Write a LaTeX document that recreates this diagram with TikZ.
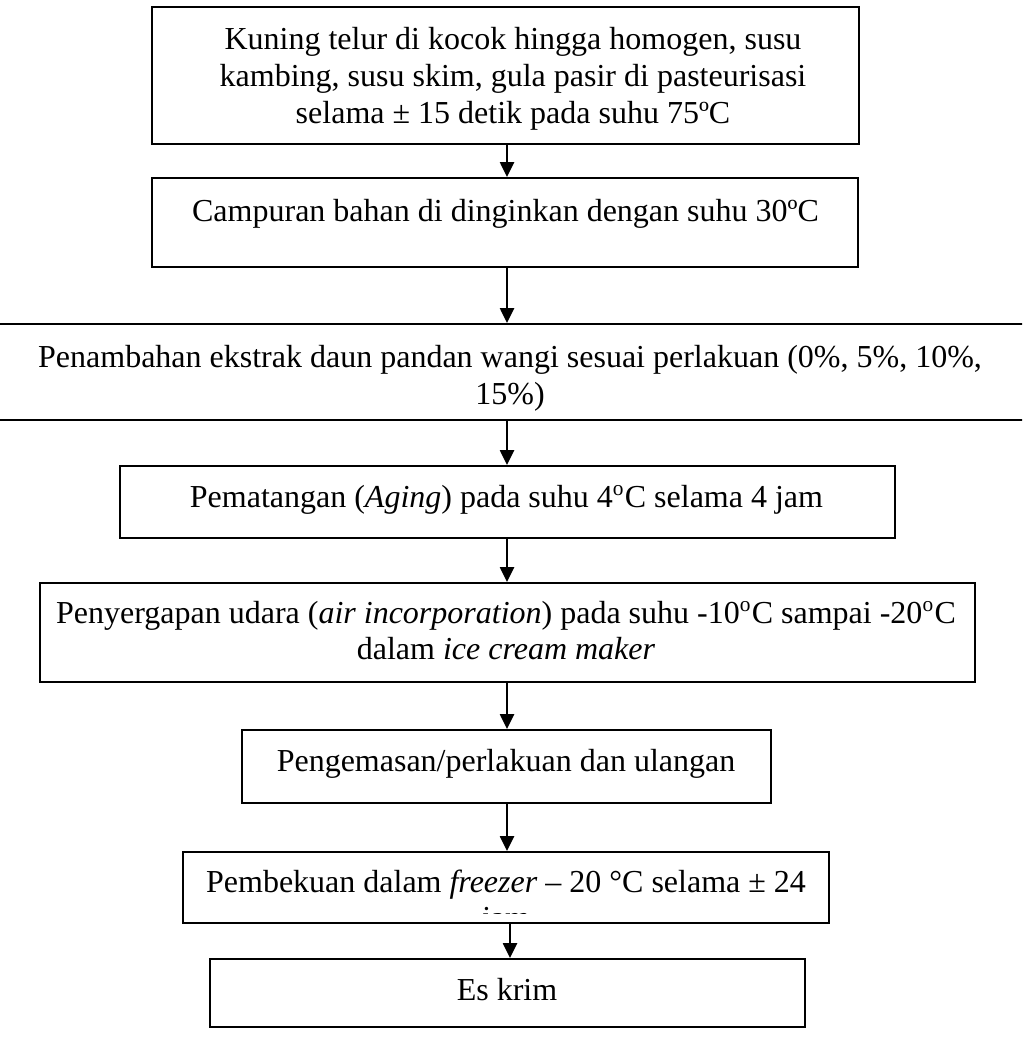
\documentclass[tikz,border=0pt]{standalone}
\usepackage{fontspec}
\setmainfont{Liberation Serif}
\usetikzlibrary{arrows.meta,fit}
\begin{document}
\begin{tikzpicture}[x=0.375pt,y=-0.375pt,
  box/.style={draw=black,line width=0.75pt,inner sep=0pt,rectangle},
  txt/.style={anchor=base,inner sep=0pt,font=\fontsize{12}{13.8}\selectfont},
  arr/.style={draw=black,line width=0.75pt,-{Triangle[width=5.3pt,length=5.6pt]}}]
\useasboundingbox (0,0) rectangle (1022,1040);
\fill[white] (0,0) rectangle (1022,1040);
\clip (0,0) rectangle (1022,1040);
\coordinate (ax) at (507,0);
% boxes
\node[box,fit={(152,7) (859,144)}] (b1) {};
\node[box,fit={(152,178) (858,267)}] (b2) {};
\node[box,fit={(-10,324) (1032,420)}] (b3) {};
\node[box,fit={(120,466) (895,538)}] (b4) {};
\node[box,fit={(40,583) (975,682)}] (b5) {};
\node[box,fit={(242,730) (771,803)}] (b6) {};
\node[box,fit={(183,852) (829,923)}] (b7) {};
\node[box,fit={(210,959) (805,1027)}] (b8) {};
% texts
\node[txt] (t1a) at (513,50) {Kuning telur di kocok hingga homogen, susu};
\node[txt] (t1b) at (513,86.8) {kambing, susu skim, gula pasir di pasteurisasi};
\node[txt] (t1c) at (513,123.6) {selama ± 15 detik pada suhu 75ºC};
\node[txt] (t2) at (505.5,222) {Campuran bahan di dinginkan dengan suhu 30ºC};
\node[txt] (t3a) at (510,368) {Penambahan ekstrak daun pandan wangi sesuai perlakuan (0\%, 5\%, 10\%,};
\node[txt] (t3b) at (510,404.8) {15\%)};
\node[txt] (t4) at (506.5,507) {Pematangan (\textit{Aging}) pada suhu 4\textsuperscript{o}C selama 4 jam};
\node[txt] (t5a) at (506,623) {Penyergapan udara (\textit{air incorporation}) pada suhu -10\textsuperscript{o}C sampai -20\textsuperscript{o}C};
\node[txt] (t5b) at (506,659.8) {dalam \textit{ice cream maker}};
\node[txt] (t6) at (506,771) {Pengemasan/perlakuan dan ulangan};
\node[txt] (t7a) at (506,892) {Pembekuan dalam \textit{freezer} – 20 °C selama ± 24};
\begin{scope}
\clip (185,854) rectangle (827,913);
\node[txt] (t7b) at (506,928.8) {jam};
\end{scope}
\node[txt] (t8) at (507,1000) {Es krim};
% arrows
\draw[arr] (b1.south -| ax) -- (b2.north -| ax);
\draw[arr] (b2.south -| ax) -- (b3.north -| ax);
\draw[arr] (b3.south -| ax) -- (b4.north -| ax);
\draw[arr] (b4.south -| ax) -- (b5.north -| ax);
\draw[arr] (b5.south -| ax) -- (b6.north -| ax);
\draw[arr] (b6.south -| ax) -- (b7.north -| ax);
\coordinate (ax2) at (510,0);
\draw[arr] (b7.south -| ax2) -- (b8.north -| ax2);
\end{tikzpicture}
\end{document}
